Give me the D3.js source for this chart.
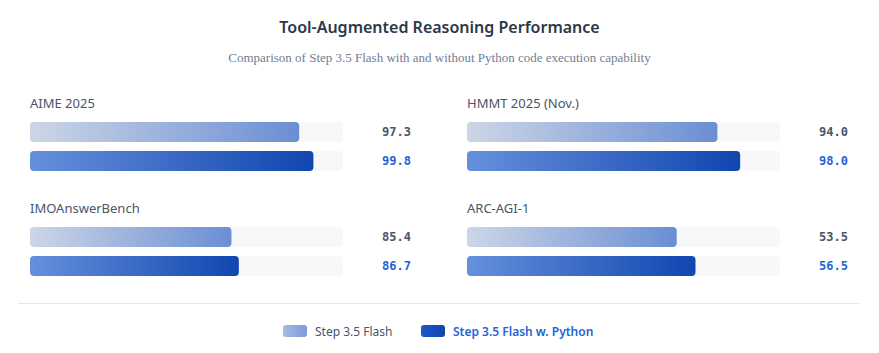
<!DOCTYPE html>
<html>
<head>
<meta charset="utf-8">
<script src="https://cdn.jsdelivr.net/npm/d3@7"></script>
<style>
  body { margin: 0; background: #ffffff; }
  svg { display: block; }
</style>
</head>
<body>
<div id="chart"></div>
<script>
// benchmarks and scores
var benchmarks = ["AIME 2025", "HMMT 2025 (Nov.)", "IMOAnswerBench", "ARC-AGI-1"];
var flashScores = [97.3, 94.0, 85.4, 53.5];
var pythonScores = [99.8, 98.0, 86.7, 56.5];
// each panel has its own value range for the bar track
var domainMin = [50, 50, 50, 20];
var domainMax = [105, 105, 105, 70];
var seriesNames = ["Step 3.5 Flash", "Step 3.5 Flash w. Python"];

var W = 879, H = 353;
var sans = "'Noto Sans', 'Open Sans', sans-serif";
var mono = "'DejaVu Sans Mono', 'Liberation Mono', monospace";

var svg = d3.select("#chart").append("svg")
  .attr("width", W)
  .attr("height", H);

// gradients for the bars and the legend swatches
var defs = svg.append("defs");
function addGradient(id, from, to) {
  var g = defs.append("linearGradient").attr("id", id)
    .attr("x1", "0%").attr("x2", "100%").attr("y1", "0%").attr("y2", "0%");
  g.append("stop").attr("offset", "0%").attr("stop-color", from);
  g.append("stop").attr("offset", "100%").attr("stop-color", to);
}
addGradient("gradFlash", "#cdd6e6", "#6a8ed4");
addGradient("gradPython", "#6690dc", "#1146b0");
addGradient("legFlash", "#a7bbe2", "#7b9bd9");
addGradient("legPython", "#1a58cc", "#1045b0");

// title + subtitle
svg.append("text")
  .attr("x", W / 2).attr("y", 33)
  .attr("text-anchor", "middle")
  .style("font-family", sans)
  .style("font-size", "16px")
  .style("font-weight", 600)
  .style("fill", "#2d3748")
  .text("Tool-Augmented Reasoning Performance");

svg.append("text")
  .attr("x", W / 2).attr("y", 62)
  .attr("text-anchor", "middle")
  .style("font-family", "'Liberation Serif', 'Times New Roman', serif")
  .style("font-size", "13px")
  .style("fill", "#718096")
  .text("Comparison of Step 3.5 Flash with and without Python code execution capability");

// panel layout
var colX = [30, 467];
var rowY = [103, 208];
var trackW = 313;
var barH = 20;
var valueRight = 381;

benchmarks.forEach(function(name, i) {
  var px = colX[i % 2];
  var py = rowY[Math.floor(i / 2)];
  var g = svg.append("g").attr("transform", "translate(" + px + "," + py + ")");

  var x = d3.scaleLinear()
    .domain([domainMin[i], domainMax[i]])
    .range([0, trackW]);

  g.append("text")
    .attr("x", 0).attr("y", 5)
    .style("font-family", sans)
    .style("font-size", "13px")
    .style("font-weight", 400)
    .style("fill", "#4a5568")
    .text(name);

  var rows = [
    { v: flashScores[i], fill: "url(#gradFlash)", color: "#4a5568", y: 19 },
    { v: pythonScores[i], fill: "url(#gradPython)", color: "#2563d6", y: 48 }
  ];

  var r = g.selectAll("g.bar").data(rows).enter().append("g").attr("class", "bar");

  r.append("rect")
    .attr("x", 0)
    .attr("y", function(d) { return d.y; })
    .attr("width", trackW)
    .attr("height", barH)
    .attr("rx", 4)
    .attr("fill", "#f7f8fa");

  r.append("rect")
    .attr("x", 0)
    .attr("y", function(d) { return d.y; })
    .attr("width", function(d) { return x(d.v); })
    .attr("height", barH)
    .attr("rx", 4)
    .attr("fill", function(d) { return d.fill; });

  r.append("text")
    .attr("x", valueRight)
    .attr("y", function(d) { return d.y + barH / 2 + 4; })
    .attr("text-anchor", "end")
    .style("font-family", mono)
    .style("font-size", "12px")
    .style("font-weight", 700)
    .style("fill", function(d) { return d.color; })
    .text(function(d) { return d.v.toFixed(1); });
});

// separator
svg.append("line")
  .attr("x1", 18).attr("x2", 860)
  .attr("y1", 303.5).attr("y2", 303.5)
  .attr("stroke", "#e6e8ec")
  .attr("stroke-width", 1);

// legend
var legend = [
  { name: seriesNames[0], fill: "url(#legFlash)", color: "#4a5568", weight: 400, x: 283 },
  { name: seriesNames[1], fill: "url(#legPython)", color: "#2563d6", weight: 600, x: 421 }
];
var lg = svg.selectAll("g.legend").data(legend).enter().append("g")
  .attr("class", "legend")
  .attr("transform", function(d) { return "translate(" + d.x + ",325)"; });

lg.append("rect")
  .attr("width", 24).attr("height", 12).attr("rx", 3)
  .attr("fill", function(d) { return d.fill; });

lg.append("text")
  .attr("x", 32).attr("y", 10.5)
  .style("font-family", sans)
  .style("font-size", "12px")
  .style("font-weight", function(d) { return d.weight; })
  .style("fill", function(d) { return d.color; })
  .text(function(d) { return d.name; });
</script>
</body>
</html>
